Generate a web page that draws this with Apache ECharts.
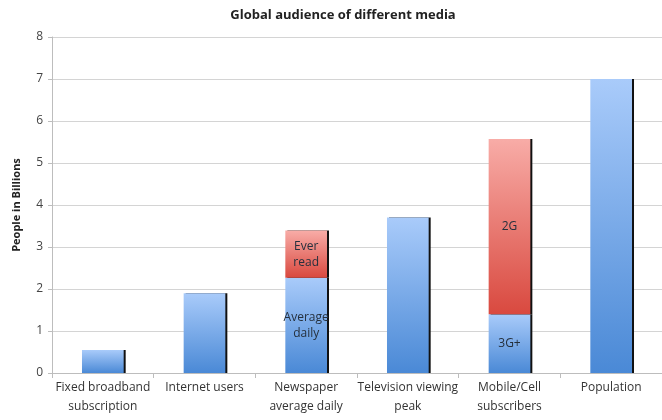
<!DOCTYPE html>
<html>
<head>
<meta charset="utf-8">
<script src="https://cdn.jsdelivr.net/npm/echarts@6/dist/echarts.min.js"></script>
<style>
  html, body { margin: 0; padding: 0; background: #fff; }
  #chart { width: 662px; height: 420px; }
</style>
</head>
<body>
<div id="chart"></div>
<script>
// categories and values (billions of people)
const categories = [
  'Fixed broadband\nsubscription',
  'Internet users',
  'Newspaper\naverage daily',
  'Television viewing\npeak',
  'Mobile/Cell\nsubscribers',
  'Population'
];
const baseValues = [0.55, 1.9, 2.27, 3.7, 1.4, 7.0];
const topValues = [null, null, 1.12, null, 4.17, null];
const baseLabels = ['', '', 'Average\ndaily', '', '3G+', ''];
const topLabels = ['', '', 'Ever\nread', '', '2G', ''];
const yTicks = [0, 1, 2, 3, 4, 5, 6, 7, 8];

const blueFill = new echarts.graphic.LinearGradient(0, 0, 0, 1, [
  { offset: 0, color: '#a9cbfa' },
  { offset: 1, color: '#4a89d6' }
]);
const redFill = new echarts.graphic.LinearGradient(0, 0, 0, 1, [
  { offset: 0, color: '#f8aca7' },
  { offset: 1, color: '#d9493f' }
]);

const barStyle = (fill) => ({
  color: fill,
  shadowColor: '#111',
  shadowOffsetX: 2,
  shadowOffsetY: 0,
  shadowBlur: 0
});

const labelFor = (texts) => ({
  show: true,
  position: 'inside',
  color: '#25303d',
  fontSize: 12,
  lineHeight: 16,
  fontFamily: 'Open Sans',
  formatter: (p) => texts[p.dataIndex]
});

const chart = echarts.init(document.getElementById('chart'));
chart.setOption({
  animation: false,
  title: {
    text: 'Global audience of different media',
    left: 338,
    top: 4,
    textAlign: 'center',
    textStyle: { fontSize: 13, fontWeight: 'bold', color: '#222', fontFamily: 'Open Sans' }
  },
  grid: { left: 52, right: -5, top: 37, bottom: 47 },
  xAxis: {
    type: 'category',
    data: categories,
    axisLine: { lineStyle: { color: '#bdbdbd' } },
    axisTick: { show: true, length: 5, lineStyle: { color: '#bdbdbd' } },
    axisLabel: { color: '#333', fontSize: 12, lineHeight: 19, margin: 5, fontFamily: 'Open Sans', interval: 0 }
  },
  yAxis: {
    type: 'value',
    min: yTicks[0],
    max: yTicks[yTicks.length - 1],
    interval: 1,
    name: 'People in Billions',
    nameLocation: 'middle',
    nameGap: 30,
    nameTextStyle: { fontSize: 11, fontWeight: 'bold', color: '#222', fontFamily: 'Open Sans' },
    axisLine: { show: true, lineStyle: { color: '#bdbdbd' } },
    axisTick: { show: true, length: 4, lineStyle: { color: '#bdbdbd' } },
    axisLabel: { color: '#444', fontSize: 12, margin: 9, fontFamily: 'Open Sans' },
    splitLine: { lineStyle: { color: '#d4d4d4', width: 1 } }
  },
  series: [
    {
      name: 'Base',
      type: 'bar',
      stack: 'total',
      barWidth: '41%',
      data: baseValues,
      itemStyle: barStyle(blueFill),
      label: labelFor(baseLabels)
    },
    {
      name: 'Top',
      type: 'bar',
      stack: 'total',
      barWidth: '41%',
      data: topValues,
      itemStyle: barStyle(redFill),
      label: labelFor(topLabels)
    }
  ]
});
</script>
</body>
</html>
